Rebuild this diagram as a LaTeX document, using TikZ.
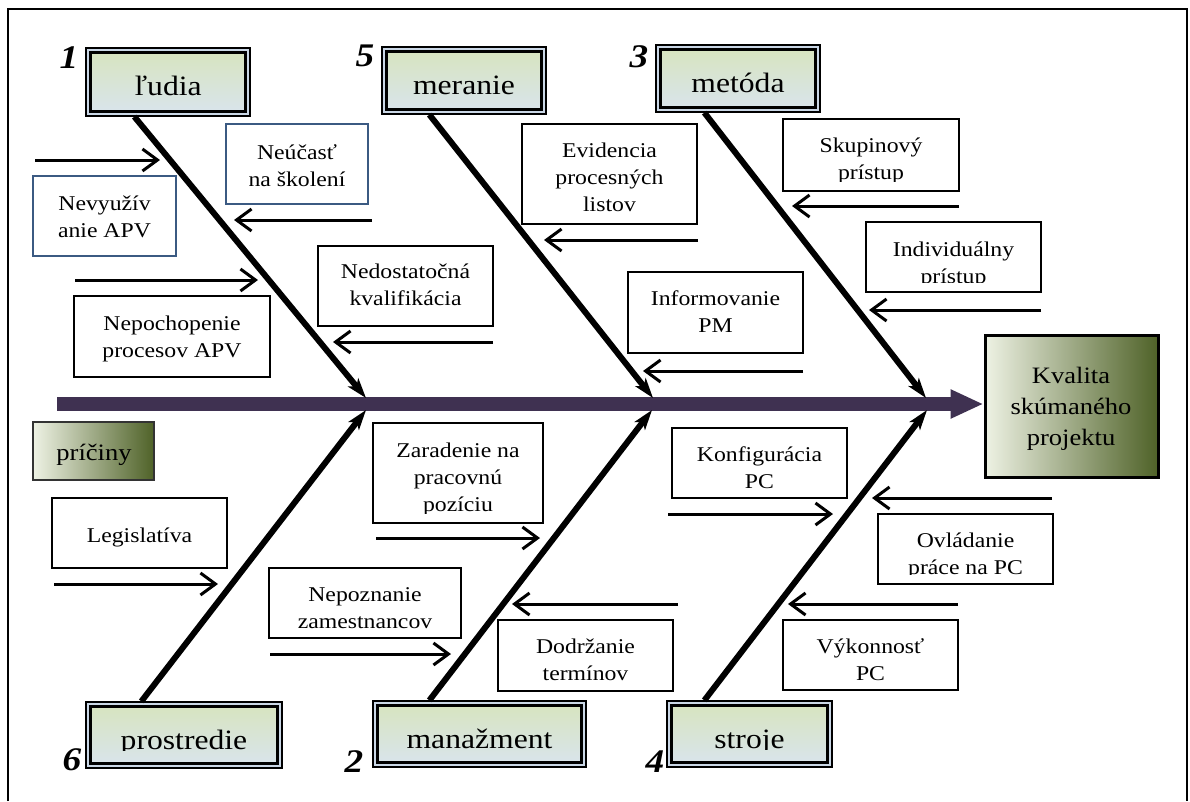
\documentclass[tikz,border=0pt]{standalone}
\usepackage{fontspec}
\setmainfont{Liberation Serif}[FakeStretch=1.13]
\usetikzlibrary{arrows.meta,fit}

\definecolor{spinecol}{HTML}{3F3151}
\definecolor{cattop}{HTML}{D7E4BD}
\definecolor{catbot}{HTML}{D9E4EE}
\definecolor{catgap}{HTML}{CAD7E6}
\definecolor{effectlight}{HTML}{EEF2E4}
\definecolor{effectdark}{HTML}{4F6228}
\definecolor{blueframe}{HTML}{3B5A82}

\tikzset{
  whyframe/.style={draw=black, line width=1.3pt, fill=white, inner sep=0pt},
  whytext/.style={inner sep=0pt, anchor=base, font=\fontsize{21}{27}\selectfont},
  catframe/.style={draw=black, line width=1.3pt, inner sep=0pt, fill=catgap,
    path picture={
      \shade[top color=cattop, middle color=cattop, bottom color=catbot]
        ([shift={(4pt,4pt)}]path picture bounding box.south west) rectangle
        ([shift={(-4pt,-4pt)}]path picture bounding box.north east);
      \draw[line width=3pt]
        ([shift={(4.8pt,4.8pt)}]path picture bounding box.south west) rectangle
        ([shift={(-4.8pt,-4.8pt)}]path picture bounding box.north east);
    }},
  cattext/.style={inner sep=0pt, anchor=base, font=\fontsize{28}{32}\selectfont},
  numtext/.style={inner sep=0pt, anchor=base, font=\fontsize{33}{33}\selectfont\bfseries\itshape},
  smallarrow/.style={line width=3pt, -{Straight Barb[length=15pt,width=22pt]}},
  bone/.style={line width=6pt, -{Stealth[length=20pt,width=13pt,inset=5pt]}},
  spineline/.style={line width=14pt, draw=spinecol, -{Triangle[length=33pt,width=27pt]}},
}

% cause box: [frame colour]{name}{x1}{y1}{x2}{y2}{first baseline offset}{text}
\newcommand\whybox[8][black]{%
  \node[whyframe, draw=#1, fit={(#3,#4) (#5,#6)}] (#2) {};
  \begin{scope}
    \clip (#3,#4) rectangle (#5,#6-10);
    \node[whytext] (#2-t) at ({(#3+#5)/2},#4+#7) {\begin{tabular}[t]{@{}c@{}}#8\end{tabular}};
  \end{scope}}

% category box with double frame: {name}{x1}{y1}{x2}{y2}{text}
\newcommand\groupbox[6]{%
  \node[catframe, fit={(#2,#3) (#4,#5)}] (#1) {};
  \begin{scope}
    \clip (#2,#3) rectangle (#4,#5-18);
    \node[cattext] (#1-t) at ({(#2+#4)/2},#3+47) {#6};
  \end{scope}}

% horizontal cause arrow: {name}{x start}{x end}{y}
\newcommand\whyarrow[4]{%
  \coordinate (#1s) at (#2,#4);
  \coordinate (#1e) at (#3,#4);
  \draw[smallarrow] (#1s) -- (#1e);}

\begin{document}
\begin{tikzpicture}[x=1pt,y=-1pt]
\useasboundingbox (0,0) rectangle (1190,801);

% outer frame
\draw[line width=2pt] (8,801) -- (8,9) -- (1187,9) -- (1187,801);

% effect
\node[draw=black, line width=3pt, inner sep=0pt, left color=effectlight, right color=effectdark,
      fit={(985,335) (1158,477)}] (kvalita) {};
\node[inner sep=0pt, anchor=base, font=\fontsize{23.5}{31}\selectfont] (kvalita-t) at (1071,383)
  {\begin{tabular}[t]{@{}c@{}}Kvalita\\skúmaného\\projektu\end{tabular}};

% spine
\coordinate (tail) at (57,404);
\draw[spineline] (tail) -- (tail -| kvalita.west);

% label of the causes side
\node[draw=black!80, line width=1.2pt, inner sep=0pt, left color=effectlight, right color=effectdark,
      fit={(33,422) (154,480)}] (priciny) {};
\node[inner sep=0pt, anchor=base, font=\fontsize{23.5}{30}\selectfont] (priciny-t) at (94,460) {príčiny};

% category boxes
\groupbox{ludia}{86}{48}{250}{116}{ľudia}
\groupbox{meranie}{382}{47}{546}{114}{meranie}
\groupbox{metoda}{656}{45}{820}{112}{metóda}
\groupbox{prostredie}{86}{702}{282}{768}{prostredie}
\groupbox{manazment}{373}{701}{586}{767}{manažment}
\groupbox{stroje}{667}{701}{832}{767}{stroje}

% category numbers
\node[numtext] (n1) at (69,68) {1};
\node[numtext] (n5) at (365,66) {5};
\node[numtext] (n3) at (639,67) {3};
\node[numtext] (n6) at (72,770) {6};
\node[numtext] (n2) at (354,772) {2};
\node[numtext] (n4) at (655,772) {4};

% bone junctions on the spine
\coordinate (j1) at (366,398);
\coordinate (j5) at (653,398);
\coordinate (j3) at (926,398);
\coordinate (j6) at (366,410);
\coordinate (j2) at (652,410);
\coordinate (j4) at (927,410);

% bones
\draw[bone] ([xshift=49pt]ludia.south west) -- (j1);
\draw[bone] ([xshift=48pt]meranie.south west) -- (j5);
\draw[bone] ([xshift=49pt]metoda.south west) -- (j3);
\draw[bone] ([xshift=56pt]prostredie.north west) -- (j6);
\draw[bone] ([xshift=57pt]manazment.north west) -- (j2);
\draw[bone] ([xshift=38pt]stroje.north west) -- (j4);

% causes: people
\whybox[blueframe]{neucast}{226}{124}{368}{204}{35}{Neúčasť\\na školení}
\whybox[blueframe]{nevyuz}{33}{176}{176}{256}{34}{Nevyužív\\anie APV}
\whybox{nedost}{318}{246}{493}{326}{32}{Nedostatočná\\kvalifikácia}
\whybox{nepoch}{74}{296}{270}{377}{34}{Nepochopenie\\procesov APV}
\whyarrow{a1}{35}{160}{160}
\whyarrow{a2}{372}{234}{220}
\whyarrow{a3}{75}{258}{280}
\whyarrow{a4}{493}{333}{342}

% causes: measurement
\whybox{evid}{522}{124}{697}{224}{33}{Evidencia\\procesných\\listov}
\whybox{inform}{628}{272}{803}{353}{33}{Informovanie\\PM}
\whyarrow{a5}{698}{544}{240}
\whyarrow{a6}{803}{643}{371}

% causes: method
\whybox{skup}{783}{119}{959}{191}{33}{Skupinový\\prístup}
\whybox{indiv}{866}{222}{1041}{292}{34}{Individuálny\\prístup}
\whyarrow{a7}{959}{792}{206}
\whyarrow{a8}{1041}{869}{310}

% causes: environment
\whybox{legis}{52}{498}{227}{568}{44}{Legislatíva}
\whyarrow{a9}{54}{218}{584}

% causes: management
\whybox{zarad}{373}{423}{543}{523}{34}{Zaradenie na\\pracovnú\\pozíciu}
\whybox{nepozn}{269}{568}{461}{638}{33}{Nepoznanie\\zamestnancov}
\whybox{dodrz}{498}{620}{673}{691}{33}{Dodržanie\\termínov}
\whyarrow{a10}{376}{540}{538}
\whyarrow{a11}{270}{451}{654}
\whyarrow{a12}{678}{512}{604}

% causes: machines
\whybox{konfig}{672}{428}{847}{498}{33}{Konfigurácia\\PC}
\whybox{ovlad}{878}{514}{1053}{584}{33}{Ovládanie\\práce na PC}
\whybox{vykon}{783}{620}{958}{690}{33}{Výkonnosť\\PC}
\whyarrow{a13}{668}{833}{514}
\whyarrow{a14}{1052}{872}{498}
\whyarrow{a15}{958}{788}{604}

\end{tikzpicture}
\end{document}
